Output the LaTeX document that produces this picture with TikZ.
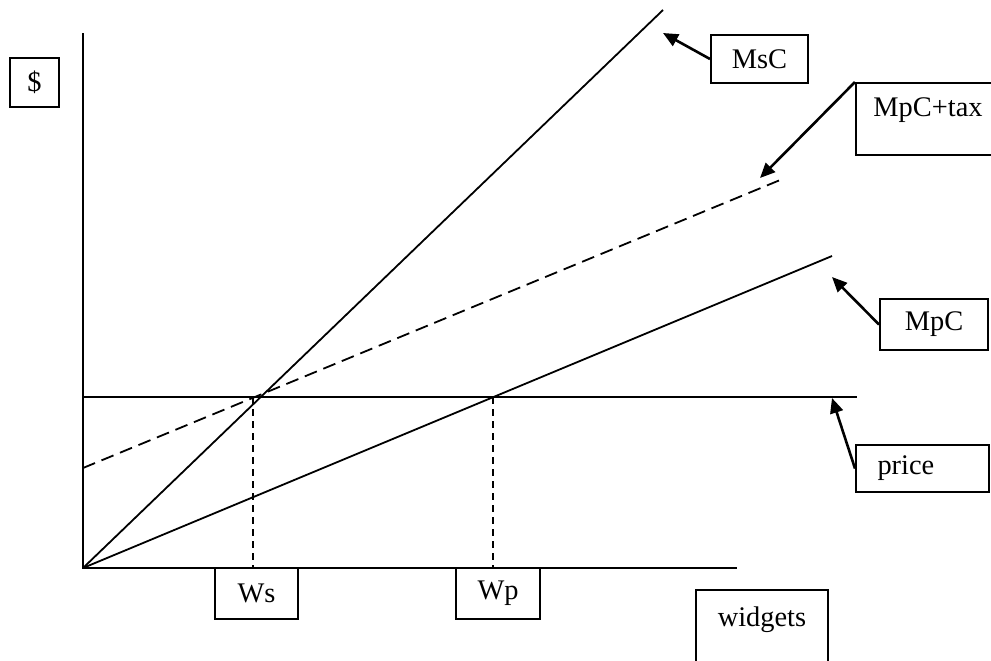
\documentclass[tikz,border=0pt]{standalone}
\usepackage{fontspec}
\setmainfont{Liberation Serif}
\usetikzlibrary{arrows.meta}
\begin{document}
\begin{tikzpicture}[x=0.5pt,y=-0.5pt,
  thin line/.style={line width=0.9pt},
  box node/.style={rectangle,draw,line width=1pt,inner sep=0pt,font=\fontsize{14.2}{17}\selectfont},
  pointer/.style={line width=1.3pt,-{Triangle[length=7.5pt,width=6.5pt]}}]

  \useasboundingbox (0,0) rectangle (991,660);

  % axes
  \coordinate (O) at (83,568);
  \coordinate (ytop) at (83,33);
  \coordinate (xend) at (737,568);
  \draw[thin line] (ytop) -- (O) -- (xend);

  % curves
  \coordinate (mscend) at (663,10);
  \coordinate (taxstart) at (83,468);
  \coordinate (taxend) at (785,178);
  \coordinate (mpcend) at (832,256);
  \coordinate (pstart) at (83,397);
  \coordinate (pend) at (857,397);
  \draw[thin line] (O) -- (mscend);
  \draw[thin line,dash pattern=on 6.5pt off 3.5pt] (taxstart) -- (taxend);
  \draw[thin line] (O) -- (mpcend);
  \draw[thin line] (pstart) -- (pend);

  % quantities
  \coordinate (ws top) at (253,397);
  \coordinate (ws bot) at (253,568);
  \coordinate (wp top) at (493,397);
  \coordinate (wp bot) at (493,568);
  \draw[thin line,dash pattern=on 3.5pt off 2.5pt] (ws top) -- (ws bot);
  \draw[thin line,dash pattern=on 3.5pt off 2.5pt] (wp top) -- (wp bot);

  % labels
  \node[box node,minimum width=24.5pt,minimum height=24.5pt] (dollar) at (34.5,82.5) {\$};
  \node[box node,minimum width=48.5pt,minimum height=24pt] (msc) at (759.5,59) {MsC};
  \node[box node,minimum width=72pt,minimum height=36pt,text depth=12pt] (tax) at (928,119) {MpC+tax};
  \node[box node,minimum width=54pt,minimum height=25.5pt] (mpc) at (934,324.5) {MpC};
  \node[box node,minimum height=23.5pt,text width=45pt,inner xsep=10.75pt,align=left] (price) at (922.5,468.5) {price};
  \node[box node,minimum width=41.5pt,minimum height=25.5pt] (ws) at (256.5,593.5) {Ws};
  \node[box node,minimum width=42pt,minimum height=25.5pt] (wp) at (498,593.5) {Wp};
  \node[box node,minimum width=66pt,minimum height=42.5pt,text depth=16pt] (widgets) at (762,632.5) {widgets};

  % pointers
  \coordinate (msctip) at (663,33);
  \coordinate (taxtip) at (760,178);
  \coordinate (mpctip) at (832,277);
  \coordinate (pricetip) at (832,398);
  \draw[pointer] (msc.west) -- (msctip);
  \draw[pointer] (tax.north west) -- (taxtip);
  \draw[pointer] (mpc.west) -- (mpctip);
  \draw[pointer] (price.west) -- (pricetip);
\end{tikzpicture}
\end{document}
